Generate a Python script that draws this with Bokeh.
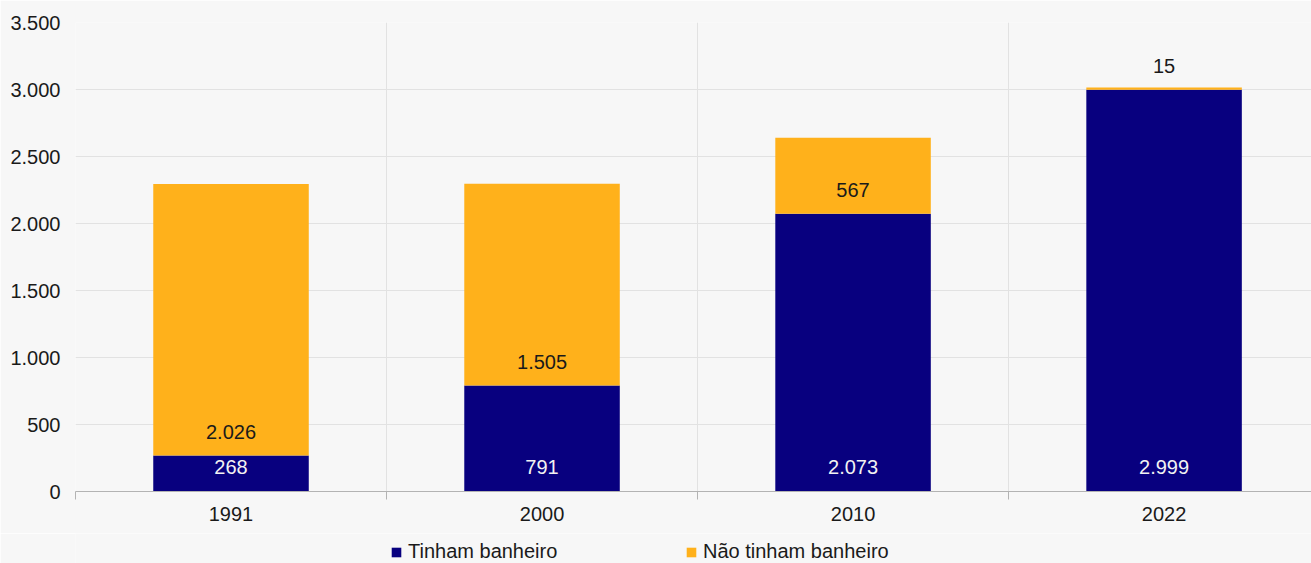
from bokeh.plotting import figure
from bokeh.layouts import column
from bokeh.models import FixedTicker, Range1d, Legend, LegendItem, ColumnDataSource
from bokeh.embed import file_html
from bokeh.resources import INLINE
from bokeh.core.properties import value

years = ["1991", "2000", "2010", "2022"]
tinham = [268, 791, 2073, 2999]
nao_tinham = [2026, 1505, 567, 15]
y_ticks = [0, 500, 1000, 1500, 2000, 2500, 3000, 3500]
series_labels = ["Tinham banheiro", "Não tinham banheiro"]

BLUE = "#08007f"
ORANGE = "#ffb11b"
BG = "#f7f7f7"
FONT = "Liberation Sans"
FS = "20px"


def br(n):
    return f"{n:,}".replace(",", ".")


xs = [i + 0.5 for i in range(len(years))]
src = ColumnDataSource(dict(
    x=xs, tinham=tinham, nao=nao_tinham,
    tl=[br(v) for v in tinham], nl=[br(v) for v in nao_tinham],
    zero=[0] * len(years),
))

# the last category band is slightly cropped at the right edge, as in the reference
x_end = len(years) - 0.026

p = figure(width=1311, height=533, x_range=Range1d(0, x_end), y_range=Range1d(0, 3500),
           output_backend="svg", toolbar_location=None,
           min_border_left=75, min_border_right=0, min_border_top=22, min_border_bottom=42,
           background_fill_color=BG, border_fill_color=BG,
           outline_line_color=None)

rs = p.vbar_stack(["tinham", "nao"], x="x", width=0.5, fill_color=[BLUE, ORANGE],
                  line_color=None, source=src)

p.text(x="x", y="zero", text="tl", y_offset=-25, text_align="center", text_baseline="middle",
       text_color="#f2f2f2", text_font=value(FONT), text_font_size=FS, source=src)
p.text(x="x", y="tinham", text="nl", y_offset=-24, text_align="center", text_baseline="middle",
       text_color="#1a1a1a", text_font=value(FONT), text_font_size=FS, source=src)

# x axis
p.xaxis.ticker = FixedTicker(ticks=xs, minor_ticks=list(range(len(years))))
p.xaxis.major_label_overrides = {x: y for x, y in zip(xs, years)}
p.xaxis.major_tick_line_color = None
p.xaxis.major_tick_out = 0
p.xaxis.major_tick_in = 0
p.xaxis.minor_tick_line_color = "#b3b3b3"
p.xaxis.minor_tick_out = 8
p.xaxis.minor_tick_in = 0
p.xaxis.axis_line_color = "#b3b3b3"
p.xaxis.major_label_standoff = 7
p.xaxis.major_label_text_font = FONT
p.xaxis.major_label_text_font_size = FS
p.xaxis.major_label_text_color = "#1a1a1a"

# y axis
p.yaxis.ticker = FixedTicker(ticks=y_ticks)
p.yaxis.major_label_overrides = {t: br(t) for t in y_ticks}
p.yaxis.axis_line_color = None
p.yaxis.major_tick_line_color = None
p.yaxis.major_tick_out = 0
p.yaxis.major_tick_in = 0
p.yaxis.minor_tick_line_color = None
p.yaxis.minor_tick_out = 0
p.yaxis.major_label_standoff = 15
p.yaxis.major_label_text_font = FONT
p.yaxis.major_label_text_font_size = FS
p.yaxis.major_label_text_color = "#1a1a1a"

p.xgrid.ticker = FixedTicker(ticks=list(range(len(years))))
p.xgrid.grid_line_color = "#e2e2e2"
p.ygrid.grid_line_color = "#e2e2e2"

# legend strip (its frame is aligned with the chart's frame: left edge at x=75)
lg = figure(width=1311, height=30, x_range=Range1d(0, x_end), y_range=Range1d(100000, 100001),
            output_backend="svg", toolbar_location=None,
            min_border_left=75, min_border_right=0, min_border_top=0, min_border_bottom=0,
            background_fill_color=BG, border_fill_color=BG, outline_line_color=None)
lg.axis.visible = False
lg.grid.visible = False
# zero-width copies of the bars, far outside this strip's range: legend swatches only
lrs = lg.vbar_stack(["tinham", "nao"], x="x", width=0, fill_color=[BLUE, ORANGE],
                    line_color=None, source=src)

legend = Legend(items=[LegendItem(label=series_labels[0], renderers=[lrs[0]]),
                       LegendItem(label=series_labels[1], renderers=[lrs[1]])],
                orientation="horizontal", location=(315, 0),
                glyph_width=12, glyph_height=12, label_standoff=6, label_width=277,
                spacing=0, padding=0, margin=0,
                background_fill_alpha=0, border_line_color=None, border_line_alpha=0,
                label_text_font=FONT, label_text_font_size=FS, label_text_color="#1a1a1a")
lg.add_layout(legend, "center")

layout = column(p, lg, spacing=0)
open("out.html", "w").write(file_html(layout, INLINE))
